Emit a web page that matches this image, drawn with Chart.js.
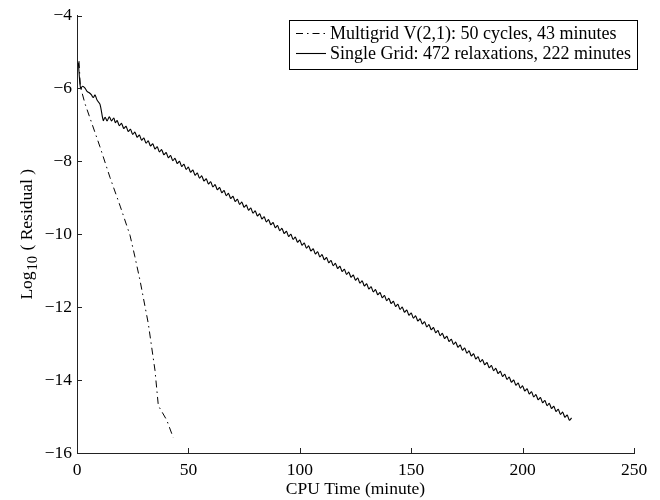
<!DOCTYPE html>
<html>
<head>
<meta charset="utf-8">
<script src="https://cdn.jsdelivr.net/npm/chart.js@4.4.1/dist/chart.umd.min.js"></script>
<style>
  body { margin: 0; background: #fff; }
  #wrap { width: 660px; height: 500px; }
</style>
</head>
<body>
<div id="wrap"><canvas id="residualChart" width="660" height="500"></canvas></div>
<script>
// Residual history: multigrid vs single grid
const mgLabel = 'Multigrid V(2,1): 50 cycles, 43 minutes';
const sgLabel = 'Single Grid: 472 relaxations, 222 minutes';

const mgTime = [0.9, 1.5, 3.6, 10.3, 14.8, 19.5, 23.8, 26, 28.3, 32, 35, 36.5, 40.3, 43.2];
const mgLog = [-5.25, -5.95, -6.42, -7.6, -8.44, -9.25, -10.03, -10.62, -11.27, -12.45, -13.73, -14.7, -15.1, -15.58];

const sgTime = [0.6, 1.6, 2.5, 3.6, 4.5, 5.5, 6.5, 7.3, 8.1, 9.0, 10.3, 11.8, 12.6, 13.5, 14.5, 15.5, 16.5, 17.2,
    18, 19, 20, 21, 22, 23, 24, 25, 26, 27, 28, 29, 30, 31, 32, 33, 34, 35, 36, 37, 38, 39,
    40, 41, 42, 43, 44, 45, 46, 47, 48, 49, 50, 51, 52, 53, 54, 55, 56, 57, 58, 59,
    60, 61, 62, 63, 64, 65, 66, 67, 68, 69, 70, 71, 72, 73, 74, 75, 76, 77, 78, 79,
    80, 81, 82, 83, 84, 85, 86, 87, 88, 89, 90, 91, 92, 93, 94, 95, 96, 97, 98, 99,
    100, 101, 102, 103, 104, 105, 106, 107, 108, 109, 110, 111, 112, 113, 114, 115, 116, 117, 118, 119,
    120, 121, 122, 123, 124, 125, 126, 127, 128, 129, 130, 131, 132, 133, 134, 135, 136, 137, 138, 139,
    140, 141, 142, 143, 144, 145, 146, 147, 148, 149, 150, 151, 152, 153, 154, 155, 156, 157, 158, 159,
    160, 161, 162, 163, 164, 165, 166, 167, 168, 169, 170, 171, 172, 173, 174, 175, 176, 177, 178, 179,
    180, 181, 182, 183, 184, 185, 186, 187, 188, 189, 190, 191, 192, 193, 194, 195, 196, 197, 198, 199,
    200, 201, 202, 203, 204, 205, 206, 207, 208, 209, 210, 211, 212, 213, 214, 215, 216, 217, 218, 219,
    220, 221, 222];
const sgLog = [-5.29, -6.00, -5.94, -5.99, -6.08, -6.12, -6.18, -6.25, -6.18, -6.32, -6.43, -6.88, -6.79, -6.89, -6.78, -6.89, -6.81, -6.94,
    -6.88, -7.02, -6.96, -7.10, -7.04, -7.18, -7.12, -7.26, -7.20, -7.34, -7.28, -7.42, -7.36, -7.50, -7.44, -7.58, -7.52, -7.66, -7.60, -7.74, -7.68, -7.82,
    -7.76, -7.90, -7.84, -7.98, -7.92, -8.06, -8.00, -8.14, -8.08, -8.22, -8.16, -8.30, -8.24, -8.38, -8.32, -8.46, -8.40, -8.54, -8.48, -8.62,
    -8.56, -8.70, -8.64, -8.78, -8.72, -8.86, -8.80, -8.94, -8.88, -9.02, -8.96, -9.10, -9.04, -9.18, -9.12, -9.26, -9.20, -9.34, -9.28, -9.42,
    -9.36, -9.50, -9.44, -9.58, -9.52, -9.66, -9.60, -9.74, -9.68, -9.82, -9.76, -9.90, -9.84, -9.98, -9.92, -10.06, -10.00, -10.14, -10.08, -10.22,
    -10.16, -10.30, -10.24, -10.38, -10.32, -10.46, -10.40, -10.54, -10.48, -10.62, -10.56, -10.70, -10.64, -10.78, -10.72, -10.86, -10.80, -10.94, -10.88, -11.02,
    -10.96, -11.10, -11.04, -11.18, -11.12, -11.26, -11.20, -11.34, -11.28, -11.42, -11.36, -11.50, -11.44, -11.58, -11.52, -11.66, -11.60, -11.74, -11.68, -11.82,
    -11.76, -11.90, -11.84, -11.98, -11.92, -12.06, -12.00, -12.14, -12.08, -12.22, -12.16, -12.30, -12.24, -12.38, -12.32, -12.46, -12.40, -12.54, -12.48, -12.62,
    -12.56, -12.70, -12.64, -12.78, -12.72, -12.86, -12.80, -12.94, -12.88, -13.02, -12.96, -13.10, -13.04, -13.18, -13.12, -13.26, -13.20, -13.34, -13.28, -13.42,
    -13.36, -13.50, -13.44, -13.58, -13.52, -13.66, -13.60, -13.74, -13.68, -13.82, -13.76, -13.90, -13.84, -13.98, -13.92, -14.06, -14.00, -14.14, -14.08, -14.22,
    -14.16, -14.30, -14.24, -14.38, -14.32, -14.46, -14.40, -14.54, -14.48, -14.62, -14.56, -14.70, -14.64, -14.78, -14.72, -14.86, -14.80, -14.94, -14.88, -15.02,
    -14.96, -15.10, -15.04];

const xTicks = [0, 50, 100, 150, 200, 250];
const yTicks = [-16, -14, -12, -10, -8, -6, -4];

const FONT = "'Liberation Serif', 'Times New Roman', serif";
const INK = '#000';

function toPoints(xs, ys) {
    return xs.map((x, i) => ({ x: x, y: ys[i] }));
}

function minusSign(v) {
    return String(v).replace('-', '\u2212');
}

// inward tick marks, axis titles and boxed legend (matlab look)
const decorations = {
    id: 'decorations',
    afterDraw(chart) {
        const ctx = chart.ctx;
        const area = chart.chartArea;
        const xs = chart.scales.x;
        const ys = chart.scales.y;
        ctx.save();
        ctx.strokeStyle = '#222';
        ctx.lineWidth = 1;
        ctx.beginPath();
        xTicks.forEach(v => {
            const px = Math.round(xs.getPixelForValue(v)) + 0.5;
            ctx.moveTo(px, area.bottom);
            ctx.lineTo(px, area.bottom - 5);
        });
        yTicks.forEach(v => {
            const py = Math.round(ys.getPixelForValue(v)) + 0.5;
            ctx.moveTo(area.left, py);
            ctx.lineTo(area.left + 5, py);
        });
        ctx.stroke();

        // x title
        ctx.fillStyle = INK;
        ctx.font = '17.5px ' + FONT;
        ctx.textAlign = 'center';
        ctx.textBaseline = 'alphabetic';
        ctx.fillText('CPU Time (minute)', (area.left + area.right) / 2, 494);

        // y title with subscript
        ctx.save();
        ctx.translate(32, (area.top + area.bottom) / 2);
        ctx.rotate(-Math.PI / 2);
        ctx.textAlign = 'left';
        const mainFont = '17.5px ' + FONT;
        const subFont = '14.5px ' + FONT;
        ctx.font = mainFont;
        const w1 = ctx.measureText('Log').width + 1;
        const w3 = ctx.measureText(' ( Residual )').width;
        ctx.font = subFont;
        const w2 = ctx.measureText('10').width + 1;
        let x0 = -(w1 + w2 + w3) / 2;
        ctx.font = mainFont;
        ctx.fillText('Log', x0, 0);
        ctx.font = subFont;
        ctx.fillText('10', x0 + w1, 5);
        ctx.font = mainFont;
        ctx.fillText(' ( Residual )', x0 + w1 + w2, 0);
        ctx.restore();

        // legend
        const box = { left: 289.5, top: 20.5, right: 637.5, bottom: 69.5 };
        ctx.fillStyle = '#fff';
        ctx.fillRect(box.left, box.top, box.right - box.left, box.bottom - box.top);
        ctx.strokeStyle = INK;
        ctx.strokeRect(box.left, box.top, box.right - box.left, box.bottom - box.top);
        ctx.font = '18px ' + FONT;
        ctx.textAlign = 'left';
        ctx.textBaseline = 'middle';
        chart.data.datasets.forEach((ds, i) => {
            const rowY = 33.5 + i * 20;
            ctx.strokeStyle = ds.borderColor;
            ctx.lineWidth = ds.borderWidth;
            ctx.setLineDash(ds.borderDash || []);
            ctx.beginPath();
            ctx.moveTo(296, rowY);
            ctx.lineTo(326, rowY);
            ctx.stroke();
            ctx.setLineDash([]);
            ctx.fillStyle = INK;
            ctx.fillText(ds.label, 330, rowY + 1);
        });
        ctx.restore();
    }
};

new Chart(document.getElementById('residualChart').getContext('2d'), {
    type: 'line',
    data: {
        datasets: [{
            label: mgLabel,
            data: toPoints(mgTime, mgLog),
            borderColor: INK,
            borderWidth: 1,
            borderDash: [7, 4, 1.5, 4],
            pointRadius: 0,
            tension: 0,
            fill: false
        }, {
            label: sgLabel,
            data: toPoints(sgTime, sgLog),
            borderColor: INK,
            borderWidth: 1.1,
            pointRadius: 0,
            tension: 0.3,
            fill: false
        }]
    },
    options: {
        responsive: false,
        animation: false,
        layout: { padding: { top: 15, right: 26, left: 0, bottom: 0 } },
        plugins: {
            legend: { display: false },
            tooltip: { enabled: false }
        },
        scales: {
            x: {
                type: 'linear',
                min: 0,
                max: 250,
                afterFit(scale) { scale.height = 47; },
                afterBuildTicks(scale) { scale.ticks = xTicks.map(v => ({ value: v })); },
                grid: { display: false, drawTicks: false },
                border: { display: true, color: '#222', width: 1 },
                ticks: {
                    color: INK,
                    padding: 7,
                    maxRotation: 0,
                    font: { family: FONT, size: 17.5 },
                    callback: v => minusSign(v)
                }
            },
            y: {
                type: 'linear',
                min: -16,
                max: -4,
                afterFit(scale) { scale.width = 77; },
                afterBuildTicks(scale) { scale.ticks = yTicks.map(v => ({ value: v })); },
                grid: { display: false, drawTicks: false },
                border: { display: true, color: '#222', width: 1 },
                ticks: {
                    color: INK,
                    padding: 5,
                    font: { family: FONT, size: 17.5 },
                    callback: v => minusSign(v)
                }
            }
        }
    },
    plugins: [decorations]
});
</script>
</body>
</html>
